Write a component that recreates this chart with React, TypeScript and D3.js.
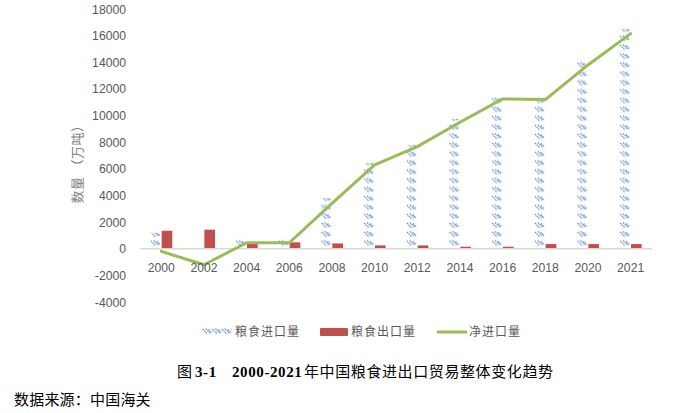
import React from "react";
import * as d3 from "d3";

const years = ["2000","2002","2004","2006","2008","2010","2012","2014","2016","2018","2020","2021"];
const importVals = [1200, 150, 900, 900, 3800, 6450, 7800, 9750, 11400, 11450, 14250, 16500];
const exportVals = [1350, 1430, 450, 480, 400, 250, 250, 150, 150, 350, 350, 350];
const netVals = [-200, -1200, 450, 450, 3400, 6300, 7670, 9500, 11250, 11200, 13800, 16150];
const yTicks = [-4000, -2000, 0, 2000, 4000, 6000, 8000, 10000, 12000, 14000, 16000, 18000];
const seriesNames = ["粮食进口量", "粮食出口量", "净进口量"];

const W = 692, H = 413;
const tickColor = "#595959";
const fontSans = "'Liberation Sans', 'Noto Sans CJK SC', sans-serif";
const fontSerif = "'Liberation Serif', 'Noto Sans CJK SC', serif";

export default function App() {
  const x = d3.scaleBand<string>().domain(years).range([140, 652]);
  const y = d3.scaleLinear().domain([-4000, 18000]).range([302, 9]);
  const bw = x.bandwidth();
  const x1 = d3.scaleBand<string>().domain(["imp", "exp"]).range([bw / 2 - 11, bw / 2 + 11]).paddingInner(0.06);
  const cx = (d: string) => (x(d) as number) + bw / 2;
  const line = d3.line<number>().x((_, i) => cx(years[i])).y((v) => y(v));
  const motif = (ox: number) => (
    <g stroke="#4F81BD" strokeWidth={1.1} strokeDasharray="1.6 0.8">
      <line x1={ox + 0.5} y1={1} x2={ox + 5} y2={5.5} />
      <line x1={ox + 3.5} y1={0.5} x2={ox + 8} y2={5} />
      <line x1={ox + 6.5} y1={1.5} x2={ox + 10} y2={5} />
    </g>
  );
  const impOff = x1("imp") as number;
  return (
    <svg width={W} height={H} style={{ position: "absolute", left: 0, top: 0, background: "#fff" }}>
      <defs>
        <pattern id="hatch" patternUnits="userSpaceOnUse" x={140} y={y(0)} width={x.step()} height={8.9}>
          {motif(impOff)}
        </pattern>
        <pattern id="hatchLegend" patternUnits="userSpaceOnUse" x={202} y={328} width={9.7} height={8}>
          {motif(0)}
        </pattern>
      </defs>
      {/* y ticks */}
      {yTicks.map((t) => (
        <text key={t} x={126} y={y(t) + 4.5} textAnchor="end" fontSize={12.2} fill={tickColor} fontFamily={fontSans}>{t}</text>
      ))}
      {/* y title */}
      <text transform={`translate(82,${161}) rotate(-90)`} textAnchor="middle" fontSize={13} letterSpacing={0.5} fill="#7f7f7f" fontFamily={fontSans}>数量 （万吨）</text>
      {/* bars */}
      {years.map((yr, i) => (
        <g key={yr}>
          <rect x={(x(yr) as number) + impOff} y={y(importVals[i])} width={x1.bandwidth()} height={y(0) - y(importVals[i])} fill="url(#hatch)" />
          <rect x={(x(yr) as number) + (x1("exp") as number)} y={y(exportVals[i])} width={x1.bandwidth()} height={y(0) - y(exportVals[i])} fill="#C0504D" />
        </g>
      ))}
      {/* zero axis */}
      <line x1={140} x2={652} y1={y(0)} y2={y(0)} stroke="#D9D9D9" strokeWidth={1.5} />
      {/* net line */}
      <path d={line(netVals) || ""} fill="none" stroke="#9BBB59" strokeWidth={3} strokeLinejoin="round" strokeLinecap="round" />
      {/* x labels */}
      {years.map((yr) => (
        <text key={yr} x={cx(yr)} y={272} textAnchor="middle" fontSize={12.2} fill={tickColor} fontFamily={fontSans}>{yr}</text>
      ))}
      {/* legend */}
      <rect x={202} y={328} width={30} height={8} fill="url(#hatchLegend)" />
      <text x={235} y={336} fontSize={12} letterSpacing={1} fill={tickColor} fontFamily={fontSans}>{seriesNames[0]}</text>
      <rect x={320} y={328} width={28} height={8} rx={1} fill="#C0504D" />
      <text x={351} y={336} fontSize={12} letterSpacing={1} fill={tickColor} fontFamily={fontSans}>{seriesNames[1]}</text>
      <line x1={438} x2={466} y1={332} y2={332} stroke="#9BBB59" strokeWidth={3} strokeLinecap="round" />
      <text x={469} y={336} fontSize={12} letterSpacing={1} fill={tickColor} fontFamily={fontSans}>{seriesNames[2]}</text>
      {/* caption */}
      <text y={377} fontSize={15} letterSpacing={0.6} fill="#000" fontFamily={fontSerif}>
        <tspan x={177}>图</tspan>
        <tspan x={195} fontWeight="bold">3-1</tspan>
        <tspan x={232} fontWeight="bold">2000-2021</tspan>
        <tspan x={304}>年中国粮食进出口贸易整体变化趋势</tspan>
      </text>
      <text x={14} y={405} fontSize={15} letterSpacing={0.2} fill="#000" fontFamily={fontSerif}>数据来源：中国海关</text>
    </svg>
  );
}
